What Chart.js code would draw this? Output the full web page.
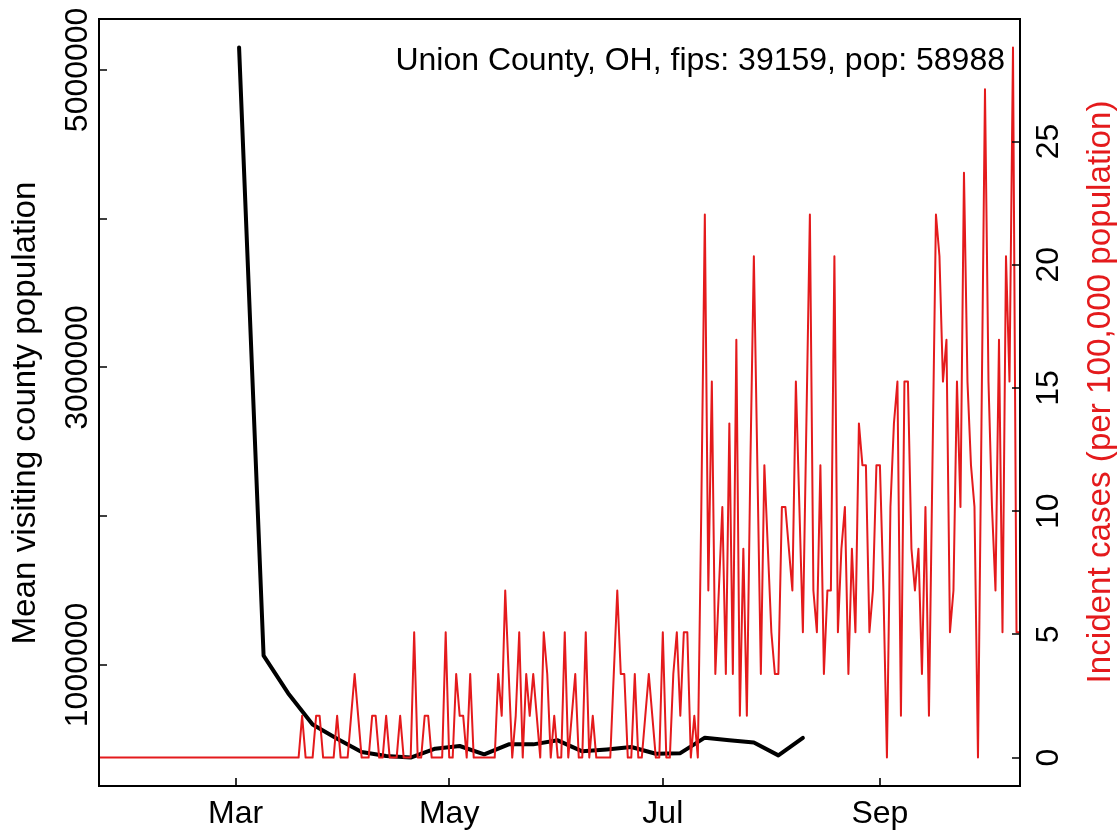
<!DOCTYPE html>
<html>
<head>
<meta charset="utf-8">
<script src="https://cdn.jsdelivr.net/npm/chart.js@4"></script>
<style>
  html, body { margin: 0; padding: 0; background: #fff; }
  #wrap { width: 1119px; height: 830px; }
</style>
</head>
<body>
<div id="wrap"><canvas id="chart" width="1119" height="830"></canvas></div>
<script>
// Data
const titleText = 'Union County, OH, fips: 39159, pop: 58988';
const countyPop = 58988;

// daily incident case counts, first day = caseStart
const caseStart = '2020-01-22';
const caseCounts = [
  0, 0, 0, 0, 0, 0, 0, 0, 0, 0,
  0, 0, 0, 0, 0, 0, 0, 0, 0, 0,
  0, 0, 0, 0, 0, 0, 0, 0, 0, 0,
  0, 0, 0, 0, 0, 0, 0, 0, 0, 0,
  0, 0, 0, 0, 0, 0, 0, 0, 0, 0,
  0, 0, 0, 0, 0, 0, 0, 0,
  1, 0, 0, 0, 1, 1, 0, 0, 0, 0,
  1, 0, 0, 0, 1, 2, 1, 0, 0, 0,
  1, 1, 0, 0, 1, 0, 0, 0, 1, 0,
  0, 0, 3, 0, 0, 1, 1, 0, 0, 0,
  0, 3, 0, 0, 2, 1, 1, 0, 2, 0,
  0, 0, 0, 0, 0, 0, 2, 1, 4, 2,
  0, 1, 3, 0, 2, 1, 2, 1, 0, 3,
  2, 0, 1, 0, 0, 3, 0, 1, 2, 0,
  0, 3, 0, 1, 0, 0, 0, 0, 0, 2,
  4, 2, 2, 0, 0, 2, 0, 0, 1, 2,
  1, 0, 0, 3, 0, 0, 2, 3, 1, 3,
  3, 0, 1, 0, 6, 13, 4, 9, 2, 4,
  6, 2, 8, 2, 10, 1, 5, 1, 7, 12,
  7, 2, 7, 5, 3, 2, 2, 6, 6, 5,
  4, 9, 6, 3, 8, 13, 4, 3, 7, 2,
  4, 4, 12, 3, 5, 6, 2, 5, 3, 8,
  7, 7, 3, 4, 7, 7, 4, 0, 6, 8,
  9, 1, 9, 9, 5, 4, 5, 2, 6, 1,
  7, 13, 12, 9, 10, 3, 4, 9, 6, 14,
  9, 7, 6, 0, 8, 16, 9, 6, 4, 10,
  3, 12, 9, 17, 3, 3
];

// weekly mean visiting county population
const visitDates = [
  '2020-03-02', '2020-03-09', '2020-03-16', '2020-03-23', '2020-03-30', '2020-04-06',
  '2020-04-13', '2020-04-20', '2020-04-27', '2020-05-04', '2020-05-11', '2020-05-18',
  '2020-05-25', '2020-06-01', '2020-06-08', '2020-06-15', '2020-06-22', '2020-06-29',
  '2020-07-06', '2020-07-13', '2020-07-20', '2020-07-27', '2020-08-03', '2020-08-10'
];
const visitPop = [
  5151000, 1062000, 810000, 600000, 504000, 415000,
  388000, 377000, 437000, 455000, 399000, 466000,
  466000, 493000, 419000, 432000, 448000, 403000,
  407000, 511000, 494000, 479000, 392000, 509000
];

const xTickDates = ['2020-03-01', '2020-05-01', '2020-07-01', '2020-09-01'];
const xTickLabels = ['Mar', 'May', 'Jul', 'Sep'];
const leftTicks = [1000000, 2000000, 3000000, 4000000, 5000000];
const leftTickLabels = ['1000000', '', '3000000', '', '5000000'];
const rightTicks = [0, 5, 10, 15, 20, 25];

const leftTitle = 'Mean visiting county population';
const rightTitle = 'Incident cases (per 100,000 population)';

const RED = '#e41a1c';
const FONT = '32px "Liberation Sans", Arial, Helvetica, sans-serif';
const TITLE_FONT = '33.2px "Liberation Sans", Arial, Helvetica, sans-serif';
const TICK = 8;

function dayIndex(d) {
  return (Date.parse(d + 'T00:00:00Z') - Date.parse(caseStart + 'T00:00:00Z')) / 86400000;
}

// R-style range: data range plus 4% each side
function rRange(vals) {
  const lo = Math.min(...vals), hi = Math.max(...vals);
  const pad = (hi - lo) * 0.04;
  return [lo - pad, hi + pad];
}

const incidence = caseCounts.map(c => c * 100000 / countyPop);
const redPoints = incidence.map((v, i) => ({ x: i, y: v }));
const blackPoints = visitDates.map((d, i) => ({ x: dayIndex(d), y: visitPop[i] }));
const [yMin, yMax] = rRange(visitPop);
const [y1Min, y1Max] = rRange(incidence);

// frame, inward ticks and rotated labels drawn the way base R does it
const rAxes = {
  id: 'rAxes',
  afterDraw(chart) {
    const { ctx, chartArea: a, scales } = chart;
    const sx = scales.x, sy = scales.y, sy1 = scales.y1;
    ctx.save();
    ctx.strokeStyle = '#000';
    ctx.lineWidth = 2;
    ctx.strokeRect(a.left, a.top, a.right - a.left, a.bottom - a.top);

    ctx.lineWidth = 1.6;
    ctx.beginPath();
    xTickDates.forEach(d => {
      const px = Math.round(sx.getPixelForValue(dayIndex(d)));
      ctx.moveTo(px, a.bottom); ctx.lineTo(px, a.bottom - TICK);
    });
    leftTicks.forEach(v => {
      const py = Math.round(sy.getPixelForValue(v));
      ctx.moveTo(a.left, py); ctx.lineTo(a.left + TICK, py);
    });
    rightTicks.forEach(v => {
      const py = Math.round(sy1.getPixelForValue(v));
      ctx.moveTo(a.right, py); ctx.lineTo(a.right - TICK, py);
    });
    ctx.stroke();

    ctx.font = FONT;
    ctx.fillStyle = '#000';
    ctx.textBaseline = 'alphabetic';

    ctx.textAlign = 'center';
    xTickDates.forEach((d, i) => {
      ctx.fillText(xTickLabels[i], sx.getPixelForValue(dayIndex(d)), 823);
    });

    const vtext = (txt, x, y, color) => {
      ctx.save();
      ctx.translate(x, y);
      ctx.rotate(-Math.PI / 2);
      ctx.fillStyle = color || '#000';
      ctx.textAlign = 'center';
      ctx.fillText(txt, 0, 0);
      ctx.restore();
    };
    leftTicks.forEach((v, i) => {
      if (leftTickLabels[i]) vtext(leftTickLabels[i], 87, sy.getPixelForValue(v));
    });
    rightTicks.forEach(v => vtext(String(v), 1058, sy1.getPixelForValue(v)));

    ctx.font = TITLE_FONT;
    vtext(leftTitle, 35, 413);
    vtext(rightTitle, 1110, 392, RED);

    ctx.font = FONT;
    ctx.textAlign = 'right';
    ctx.fillText(titleText, 1005, 70);
    ctx.restore();
  }
};

new Chart(document.getElementById('chart'), {
  type: 'line',
  data: {
    datasets: [
      {
        label: 'Incident cases',
        data: redPoints,
        yAxisID: 'y1',
        borderColor: RED,
        borderWidth: 2,
        pointRadius: 0,
        tension: 0,
        borderJoinStyle: 'round',
        borderCapStyle: 'round',
        order: 0
      },
      {
        label: 'Mean visiting county population',
        data: blackPoints,
        yAxisID: 'y',
        borderColor: '#000',
        borderWidth: 4,
        pointRadius: 0,
        tension: 0,
        borderJoinStyle: 'round',
        borderCapStyle: 'round',
        order: 1
      }
    ]
  },
  options: {
    responsive: false,
    animation: false,
    devicePixelRatio: 1,
    layout: { padding: { left: 99, right: 99, top: 19, bottom: 44 } },
    scales: {
      x: { type: 'linear', display: false, min: 0, max: caseCounts.length - 1 },
      y: { type: 'linear', display: false, position: 'left', min: yMin, max: yMax },
      y1: { type: 'linear', display: false, position: 'right', min: y1Min, max: y1Max }
    },
    plugins: {
      legend: { display: false },
      tooltip: { enabled: false }
    }
  },
  plugins: [rAxes]
});
</script>
</body>
</html>
